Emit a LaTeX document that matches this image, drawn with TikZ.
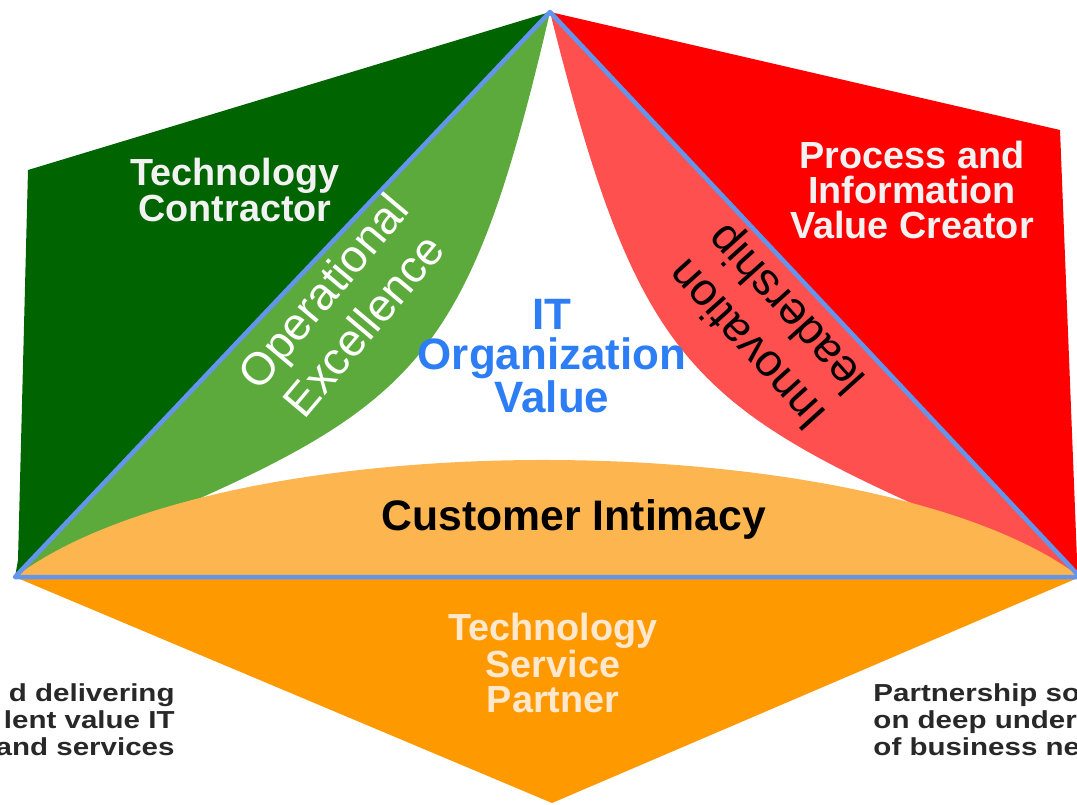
\documentclass[tikz,border=0pt]{standalone}
\usepackage{fontspec}
\setmainfont{Liberation Sans}
\usetikzlibrary{calc}
\usetikzlibrary{positioning}
\definecolor{darkgreen}{RGB}{0,100,0}
\definecolor{lightgreen}{RGB}{92,170,60}
\definecolor{brightred}{RGB}{255,0,0}
\definecolor{lightred}{RGB}{255,80,80}
\definecolor{deeporange}{RGB}{255,153,0}
\definecolor{lightorange}{RGB}{253,181,80}
\definecolor{edgeblue}{RGB}{100,149,237}
\definecolor{valueblue}{RGB}{45,125,245}
\definecolor{rolewhite}{RGB}{242,242,242}
\definecolor{partnerpale}{RGB}{255,232,205}
\definecolor{notegray}{RGB}{40,40,40}
\tikzstyle{rolelabel} = [text=rolewhite, font=\bfseries\fontsize{21.5}{20}\selectfont, align=center]
\tikzstyle{strategylabel} = [font=\fontsize{26}{30}\selectfont, align=center]
\tikzstyle{valuelabel} = [text=valueblue, font=\bfseries\fontsize{25}{23}\selectfont, align=center]
\tikzstyle{notelabel} = [text=notegray, font=\bfseries\fontsize{14}{15.3}\selectfont, xscale=1.2]
\tikzstyle{edgeline} = [draw=edgeblue, line width=0.09cm, line cap=round, line join=round]
\begin{document}
\begin{tikzpicture}[x=0.02cm, y=-0.02cm]
\useasboundingbox (0,0) rectangle (1077,804);
\clip (0,0) rectangle (1077,804);
\coordinate (apex) at (550,12);
\coordinate (left) at (15,577);
\coordinate (right) at (1080,577);

% outer wings
\fill[darkgreen] (left) -- (18,560) -- (28,170) -- (apex) -- cycle;
\fill[brightred] (apex) -- (1060,130) -- (1077,560) -- (right) -- cycle;
\fill[deeporange] (left) -- (552,803) -- (right) -- cycle;

% inner lenses
\fill[lightgreen] (left) -- (apex) .. controls (458,407) and (406,412) .. (left);
\fill[lightred] (apex) -- (right) .. controls (701,412) and (649,407) .. (apex);
\fill[lightorange] (left) -- (right) .. controls (880,425) and (228,417) .. (left);
\draw[edgeline] (left) -- (apex) -- (right) -- cycle;

\node[rolelabel] (contractor) at (235,190) {Technology\\Contractor};
\node[rolelabel] (creator) at (912,190) {Process and\\Information\\Value Creator};
\node[rolelabel, text=partnerpale] (partner) at (553,663) {Technology\\Service\\Partner};
\node[valuelabel] (value) at (552,356) {IT\\Organization\\Value};
\node[font=\bfseries\fontsize{24.3}{25}\selectfont] (intimacy) at (574,519) {Customer Intimacy};
\node[strategylabel, text=white, rotate=50] (excellence) at (343,308) {Operational\\Excellence};
\node[strategylabel, rotate=132] (innovation) at (769,325) {Innovation\\leadership};

\node[notelabel, anchor=east, align=right] (leftnote) at (182,720) {d delivering\\lent value IT\\and services};
\node[notelabel, anchor=west, align=left] (rightnote) at (866,720) {Partnership so\\on deep under\\of business ne};
\end{tikzpicture}
\end{document}
